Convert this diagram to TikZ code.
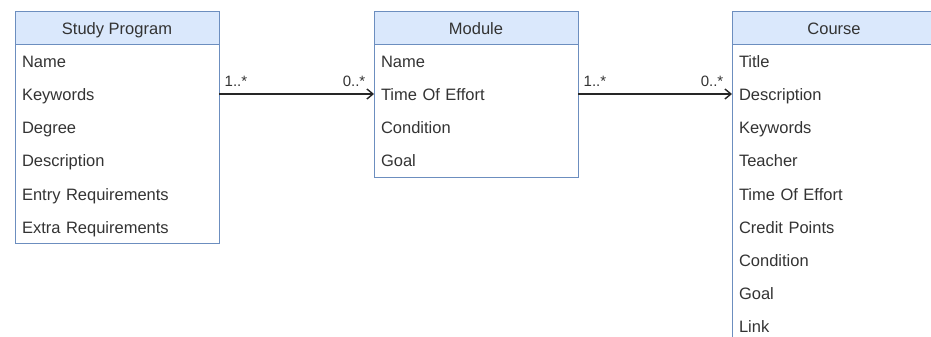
\documentclass[tikz,border=0pt]{standalone}
\usepackage{fontspec}
\setmainfont{Liberation Sans}
\usetikzlibrary{positioning, fit, arrows.meta}
\definecolor{umlline}{HTML}{6C8EBF}
\definecolor{umlhead}{HTML}{DAE8FC}
\definecolor{umltext}{HTML}{333333}

\begin{document}
\begin{tikzpicture}[
    x=1pt, y=-1pt,
    node distance=0pt,
    >={Straight Barb[length=6pt, width=10pt]},
    classhead/.style={draw=umlline, fill=umlhead, minimum width=204pt, minimum height=33.2pt, inner sep=0pt, outer sep=0pt, text height=13pt, text depth=0pt, text=umltext, font=\fontsize{16.5}{20}\selectfont, anchor=north west},
    attr/.style={minimum height=33.2pt, text width=190pt, inner xsep=7pt, inner ysep=0pt, outer sep=0pt, text height=13pt, text depth=0pt, align=left, text=umltext, font=\fontsize{16.5}{20}\selectfont},
    classbody/.style={draw=umlline, inner sep=0pt, outer sep=0pt, fit=#1},
    mult/.style={inner sep=0pt, text=umltext, font=\fontsize{15}{18}\selectfont},
    assoc/.style={->, line width=1.4pt, draw=black!85}
]
   \useasboundingbox (0,0) rectangle (931,337);
   \clip (0,0) rectangle (931,337);

   % Study Program
   \node[classhead] (sphead) at (15,11) {Study Program};
   \node[attr] (sp1) [below=of sphead] {Name};
   \node[attr] (sp2) [below=of sp1] {Keywords};
   \node[attr] (sp3) [below=of sp2] {Degree};
   \node[attr] (sp4) [below=of sp3] {Description};
   \node[attr] (sp5) [below=of sp4] {Entry Requirements};
   \node[attr] (sp6) [below=of sp5] {Extra Requirements};
   \node[classbody={(sphead)(sp6)}] (spbox) {};

   % Module
   \node[classhead] (mohead) at (374,11) {Module};
   \node[attr] (mo1) [below=of mohead] {Name};
   \node[attr] (mo2) [below=of mo1] {Time Of Effort};
   \node[attr] (mo3) [below=of mo2] {Condition};
   \node[attr] (mo4) [below=of mo3] {Goal};
   \node[classbody={(mohead)(mo4)}] (mobox) {};

   % Course
   \node[classhead] (cohead) at (732,11) {Course};
   \node[attr] (co1) [below=of cohead] {Title};
   \node[attr] (co2) [below=of co1] {Description};
   \node[attr] (co3) [below=of co2] {Keywords};
   \node[attr] (co4) [below=of co3] {Teacher};
   \node[attr] (co5) [below=of co4] {Time Of Effort};
   \node[attr] (co6) [below=of co5] {Credit Points};
   \node[attr] (co7) [below=of co6] {Condition};
   \node[attr] (co8) [below=of co7] {Goal};
   \node[attr] (co9) [below=of co8] {Link};
   \node[classbody={(cohead)(co9)}] (cobox) {};

   % Associations
   \draw[assoc] (sp2.east) -- (mo2.west)
        node[mult, pos=0, anchor=south west, xshift=5pt, yshift=7pt] {1..*}
        node[mult, pos=1, anchor=south east, xshift=-8pt, yshift=7pt] {0..*};
   \draw[assoc] (mo2.east) -- (co2.west)
        node[mult, pos=0, anchor=south west, xshift=5pt, yshift=7pt] {1..*}
        node[mult, pos=1, anchor=south east, xshift=-8pt, yshift=7pt] {0..*};
\end{tikzpicture}
\end{document}
